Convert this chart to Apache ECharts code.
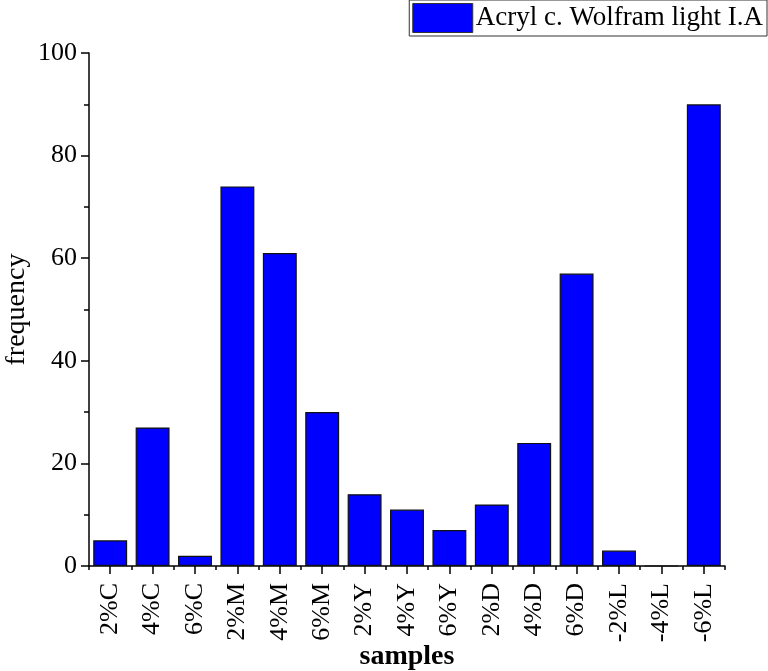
<!DOCTYPE html>
<html><head><meta charset="utf-8">
<script src="https://cdn.jsdelivr.net/npm/echarts@6/dist/echarts.min.js"></script>
<style>html,body{margin:0;padding:0;background:#fff}#c{width:768px;height:671px}</style>
</head><body><div id="c"></div>
<script>
const categories = ['2%C','4%C','6%C','2%M','4%M','6%M','2%Y','4%Y','6%Y','2%D','4%D','6%D','-2%L','-4%L','-6%L'];
const frequency = [5,27,2,74,61,30,14,11,7,12,24,57,3,0,90];
const seriesName = 'Acryl c. Wolfram light I.A';
const font = 'Liberation Serif';
const chart = echarts.init(document.getElementById('c'));
chart.setOption({
  animation:false,
  backgroundColor:'#fff',
  grid:{left:89,top:53,right:43,bottom:105,containLabel:false,outerBoundsMode:'none'},
  legend:{
    right:1, top:0, orient:'horizontal',
    itemWidth:60, itemHeight:29, itemGap:0,
    padding:[3,4,3,3],
    borderColor:'#333', borderWidth:1,
    textStyle:{fontFamily:font,fontSize:27,color:'#000',padding:[0,0,0,-2]},
    data:[{name:seriesName, icon:'rect', itemStyle:{borderColor:'#333',borderWidth:1}}]
  },
  xAxis:[{
    type:'category', data:categories, position:'bottom',
    name:'samples', nameLocation:'middle', nameGap:77, nameMoveOverlap:false,
    nameTextStyle:{fontFamily:font,fontSize:28,fontWeight:'bold',color:'#000'},
    axisLine:{lineStyle:{color:'#000',width:1.5}},
    axisTick:{show:true,alignWithLabel:true,length:8,lineStyle:{color:'#000',width:1.5}},
    axisLabel:{rotate:90,fontFamily:font,fontSize:26,color:'#000',margin:17,interval:0},
    splitLine:{show:false}
  },{
    type:'category', data:categories, position:'bottom',
    axisLine:{show:false},
    axisTick:{show:true,alignWithLabel:false,length:4,lineStyle:{color:'#000',width:1.5}},
    axisLabel:{show:false}
  }],
  yAxis:{
    type:'value', min:0, max:100, interval:20,
    name:'frequency', nameLocation:'middle', nameGap:58, nameMoveOverlap:false,
    nameTextStyle:{fontFamily:font,fontSize:28,color:'#000'},
    axisLine:{show:true,lineStyle:{color:'#000',width:1.5}},
    axisTick:{show:true,length:8,lineStyle:{color:'#000',width:1.5}},
    minorTick:{show:true,splitNumber:2,length:5,lineStyle:{color:'#000',width:1.5}},
    axisLabel:{fontFamily:font,fontSize:26,color:'#000',margin:12},
    splitLine:{show:false}
  },
  series:[{
    name:seriesName, type:'bar', data:frequency, xAxisIndex:0,
    barCategoryGap:'20%',
    itemStyle:{color:'#0000ff',borderColor:'#111',borderWidth:1.2}
  }]
});
</script></body></html>
